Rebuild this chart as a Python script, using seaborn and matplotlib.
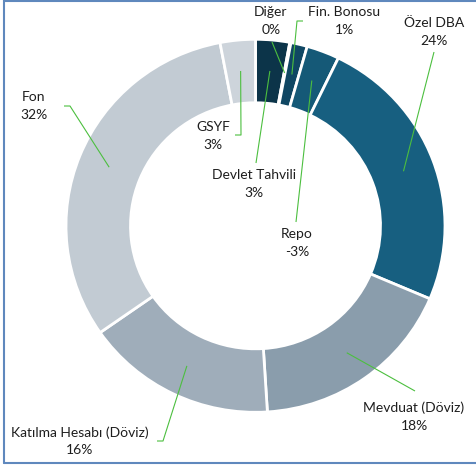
import numpy as np
import matplotlib
matplotlib.use("Agg")
import matplotlib.pyplot as plt
from matplotlib.lines import Line2D
import seaborn as sns

# ---- data ----
labels = ["Devlet Tahvili", "Diğer", "Fin. Bonosu", "Repo", "Özel DBA",
          "Mevduat (Döviz)", "Katılma Hesabı (Döviz)", "Fon", "GSYF"]
values = [2.9, 0.1, 1.4, -2.8, 24.2, 17.6, 16.3, 31.7, 3.0]
colors = ["#0c3449", "#0e3d55", "#104763", "#155977", "#175f80",
          "#8a9dac", "#9fadba", "#c2cbd3", "#cdd4db"]

# ---- layout (image pixel coords, y downward) ----
W, H = 477, 470
center_px = (255.5, 225.8)
r_out, ring_w, r_anchor = 189.5, 64.5, 158
k = 189.5 / 186.5          # slight horizontal stretch of the doughnut
label_pos = {
    "Devlet Tahvili": (254, 184),
    "Diğer": (271, 21),
    "Fin. Bonosu": (344, 21),
    "Repo": (297, 243.5),
    "Özel DBA": (434, 32),
    "Mevduat (Döviz)": (414, 417),
    "Katılma Hesabı (Döviz)": (80, 441.5),
    "Fon": (34, 106.5),
    "GSYF": (213, 136),
}
leader_start = {
    "Devlet Tahvili": [(256, 163)],
    "Diğer": [(272, 42)],
    "Fin. Bonosu": [(303, 21), (297, 21)],
    "Repo": [(296, 222)],
    "Özel DBA": [(434, 52)],
    "Mevduat (Döviz)": [(415, 391)],
    "Katılma Hesabı (Döviz)": [(157, 441), (163, 441)],
    "Fon": [(64, 106), (70, 106)],
    "GSYF": [(235, 135), (241, 135)],
}

sns.set_theme(style="white")
plt.rcParams["font.family"] = ["Lato", "DejaVu Sans"]

fig = plt.figure(figsize=(W / 100, H / 100), dpi=100)
ax = fig.add_axes([0, 0, 1, 1])


def to_data(x, y):
    return x, (H - y) * k


cx, cy = to_data(*center_px)
wedges, _ = ax.pie(np.abs(values), startangle=90, counterclock=False,
                   colors=colors, radius=r_out, center=(cx, cy),
                   wedgeprops=dict(width=ring_w, edgecolor="white", linewidth=2))
ax.set_aspect("auto")
ax.set_xlim(0, W)
ax.set_ylim(0, H * k)
ax.axis("off")

green = "#4cbf3f"
for lab, v, w in zip(labels, values, wedges):
    mid = np.deg2rad((w.theta1 + w.theta2) / 2)
    a_x = cx + r_anchor * np.cos(mid)
    a_y = cy + r_anchor * np.sin(mid)
    pts = [to_data(x, y) for x, y in leader_start[lab]] + [(a_x, a_y)]
    xs, ys = zip(*pts)
    ax.plot(xs, ys, color=green, lw=0.8, solid_capstyle="butt", zorder=5)
    lx, ly = label_pos[lab]
    ax.text(*to_data(lx, ly - 9), lab, ha="center", va="center", fontsize=10, color="#1e1e1e")
    ax.text(*to_data(lx, ly + 9), f"{round(v)}%", ha="center", va="center", fontsize=10, color="#1e1e1e")

# chart frame
bc = "#5f88bd"
fig.add_artist(Line2D([4.5 / W, 4.5 / W], [1, 1 - 462.5 / H], transform=fig.transFigure, color=bc, lw=1.5))
fig.add_artist(Line2D([4.5 / W, 1], [1 - 0.8 / H, 1 - 0.8 / H], transform=fig.transFigure, color=bc, lw=1.5))
fig.add_artist(Line2D([4.5 / W, 1], [1 - 462.5 / H, 1 - 462.5 / H], transform=fig.transFigure, color=bc, lw=1.5))

fig.savefig("out.png", dpi=100, facecolor="white")
